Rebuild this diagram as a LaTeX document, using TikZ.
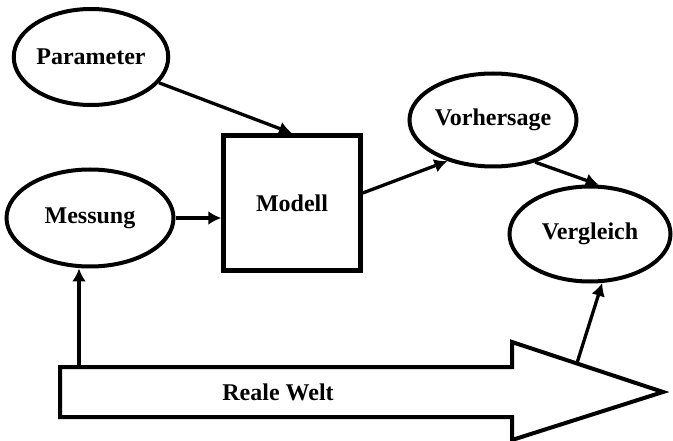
\documentclass[tikz,border=0pt]{standalone}
\usepackage{fontspec}
\setmainfont{Liberation Serif}
\usetikzlibrary{arrows.meta}
\usetikzlibrary{shapes,positioning}

\begin{document}
\begin{tikzpicture}[x=1pt,y=-1pt,
        oval/.style={ellipse, draw, line width=4pt, inner sep=0pt},
        txt/.style={font=\bfseries\fontsize{24}{28}\selectfont},
        pfeil/.style={line width=3.3pt, -{Latex[length=13pt,width=14pt]}}
    ]
        \useasboundingbox (0,0) rectangle (673,441);
        \node[oval, txt, minimum width=146pt, minimum height=96pt] (param) at (91,57) {Parameter};
        \node[oval, txt, minimum width=167pt, minimum height=97pt] (messung) at (90,218) {Messung};
        \node[oval, txt, minimum width=167pt, minimum height=93pt] (vorhersage) at (493,120) {Vorhersage};
        \node[oval, txt, minimum width=161pt, minimum height=95pt] (vergleich) at (590,234) {Vergleich};
        \node[draw, line width=4.5pt, txt, minimum width=137pt, minimum height=135pt] (modell) at (292,203) {Modell};
        \draw[line width=4pt, fill=white]
            (60,367) -- (512,367) -- (512,342) -- (663,392) -- (512,440) -- (512,417) -- (60,417) -- cycle;
        \node[txt] (welt) at (278,392) {Reale Welt};
        \coordinate (w1) at (79,367);
        \coordinate (w2) at (577,363);
        \draw[pfeil] (param) -- (modell.north);
        \draw[pfeil] (messung) -- (messung -| modell.west);
        \draw[pfeil] ([yshift=10pt]modell.east) -- (vorhersage.222);
        \draw[pfeil] (vorhersage.-45) -- (vergleich.80);
        \draw[pfeil] (w1) -- (w1 |- messung.south);
        \draw[pfeil] (w2) -- (vergleich.-76);
    \end{tikzpicture}
\end{document}
